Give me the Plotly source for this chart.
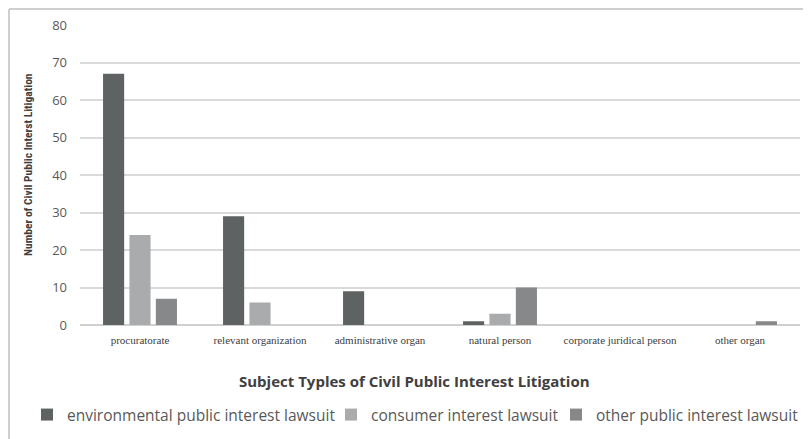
import plotly.graph_objects as go

categories = ["procuratorate", "relevant organization", "administrative organ",
              "natural person", "corporate juridical person", "other organ"]
env_values = [67, 29, 9, 1, 0, 0]
consumer_values = [24, 6, 0, 3, 0, 0]
other_values = [7, 0, 0, 10, 0, 1]
series_names = ["environmental public interest lawsuit", "consumer interest lawsuit",
                "other public interest lawsuit"]
colors = ["#5f6262", "#aaabad", "#87888a"]
y_ticks = [0, 10, 20, 30, 40, 50, 60, 70, 80]

W, H = 811, 439
OFF = 8  # page body offset
L, R, T, B = 72, 19, 17, 122
pw, ph = W - L - R, H - T - B

def px(x):
    return (x - OFF - L) / pw

def py(y):
    return (H - B - (y - OFF)) / ph

def cx(x):
    return (x - OFF) / W

def cy(y):
    return (H - (y - OFF)) / H

legend_ids = ["legend", "legend2", "legend3"]
legend_left = [27, 331, 556]

fig = go.Figure()
for name, vals, c, lid in zip(series_names, [env_values, consumer_values, other_values], colors, legend_ids):
    fig.add_trace(go.Bar(x=categories, y=vals, name=name, legend=lid,
                         marker=dict(color=c, line=dict(width=0))))

legend_common = dict(orientation="h", xref="container", yref="container",
                     xanchor="left", yanchor="middle", y=cy(415),
                     font=dict(family="Open Sans, sans-serif", size=15.5, color="#595959"),
                     itemwidth=30, tracegroupgap=0, bgcolor="rgba(0,0,0,0)", borderwidth=0)

layout_legends = {}
for lid, ll in zip(legend_ids, legend_left):
    layout_legends[lid] = dict(legend_common, x=cx(ll))

fig.update_layout(
    width=W, height=H,
    margin=dict(l=L, r=R, t=T, b=B, pad=0, autoexpand=False),
    paper_bgcolor="white", plot_bgcolor="white",
    barmode="group", bargap=0.34, bargroupgap=0.2,
    showlegend=True,
    xaxis=dict(showgrid=False, showline=False, ticks="", zeroline=False,
               tickfont=dict(family="Liberation Serif, serif", size=11, color="#404040"),
               ticklabelstandoff=7),
    yaxis=dict(range=[0, 80], tickvals=y_ticks, showgrid=True, gridcolor="#d9d9d9", gridwidth=1.5,
               zeroline=True, zerolinecolor="#d0d0d0", zerolinewidth=1.5, showline=False, ticks="",
               tickfont=dict(family="Open Sans, sans-serif", size=13, color="#595959"),
               ticklabelstandoff=12),
    annotations=[
        dict(text="<b>Number of Civil Public Interst Litigation</b>", xref="paper", yref="paper",
             x=px(28), y=py(165), textangle=-90, showarrow=False, xanchor="center", yanchor="middle",
             font=dict(family="Roboto Condensed, Roboto, sans-serif", size=11.5, color="#404040")),
        dict(text="<b>Subject Typles of Civil Public Interest Litigation</b>", xref="paper", yref="paper",
             x=px(414), y=py(381), showarrow=False, xanchor="center", yanchor="middle",
             font=dict(family="Open Sans, sans-serif", size=15, color="#404040")),
    ],
    shapes=[
        dict(type="line", xref="paper", yref="paper", x0=px(9), x1=px(830), y0=py(9), y1=py(9),
             line=dict(color="#cfcfcf", width=2)),
        dict(type="line", xref="paper", yref="paper", x0=px(9), x1=px(9), y0=py(9), y1=py(460),
             line=dict(color="#cfcfcf", width=2)),
    ],
    **layout_legends,
)

fig.write_html("out.html")
